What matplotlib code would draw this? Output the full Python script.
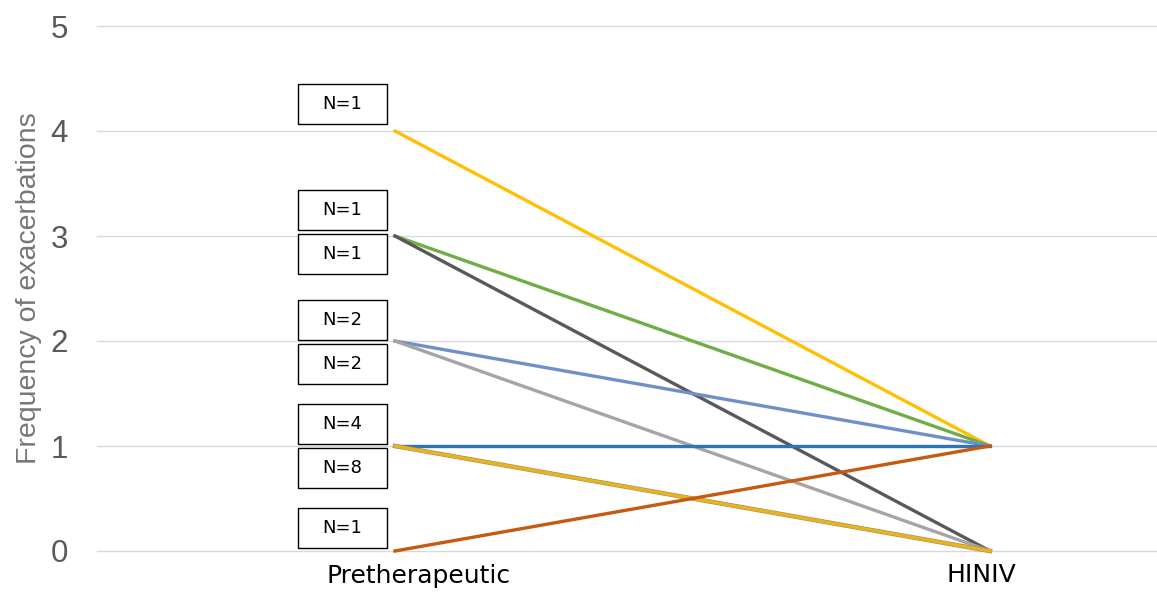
import matplotlib
matplotlib.use("Agg")
import matplotlib.pyplot as plt
from matplotlib.patches import Rectangle

# data
categories = ['Pretherapeutic', 'HINIV']
pre_values = [4, 3, 3, 2, 2, 1, 1, 0]
post_values = [1, 1, 0, 1, 0, 1, 0, 1]
line_colors = ['#FFC000', '#70AD47', '#595959', '#6F8FC9', '#A5A5A5', '#2E75B6', '#E6B422', '#C55A11']

box_labels = ['N=1', 'N=1', 'N=1', 'N=2', 'N=2', 'N=4', 'N=8', 'N=1']
box_y = [4.257, 3.248, 2.829, 2.2, 1.781, 1.21, 0.79, 0.219]

fig = plt.figure(figsize=(11.57, 5.95), dpi=100)
ax = fig.add_axes([97 / 1157, 44 / 595, 1 - 97 / 1157, 525 / 595])

ax.set_ylim(0, 5)
ax.set_xlim(-0.5008, 1.2807)
ax.set_yticks(range(6))
for t in range(6):
    ax.axhline(t, color='#D9D9D9', linewidth=1, zorder=0, clip_on=False)
for s in ax.spines.values():
    s.set_visible(False)
ax.tick_params(axis='y', length=0, pad=21, labelsize=22.5, labelcolor='#595959')
ax.tick_params(axis='x', length=0, pad=9, labelsize=18, labelcolor='black')
for lab in ax.get_yticklabels():
    lab.set_family('Liberation Sans')
ax.set_xticks([0.04, 0.985])
ax.set_xticklabels(categories)
ax.set_ylabel('Frequency of exacerbations', fontsize=20.5, color='#767676',
              family='Liberation Sans')
ax.yaxis.set_label_coords(-0.0515, 0.5)

for a, b, c in zip(pre_values, post_values, line_colors):
    if c == '#E6B422':
        ax.plot([0, 1], [a, b], color='#A08C50', linewidth=3.2, clip_on=False, zorder=3)
    ax.plot([0, 1], [a, b], color=c, linewidth=2.4, clip_on=False, zorder=3)

bw = 89 / 595
bh = 40 / 105
for lab, yy in zip(box_labels, box_y):
    ax.add_patch(Rectangle((-0.089 - bw / 2, yy - bh / 2), bw, bh, facecolor='white',
                           edgecolor='black', linewidth=1, zorder=4, clip_on=False))
    ax.text(-0.089, yy, lab, ha='center', va='center', fontsize=13, zorder=5)

fig.savefig('out.png', dpi=100)
